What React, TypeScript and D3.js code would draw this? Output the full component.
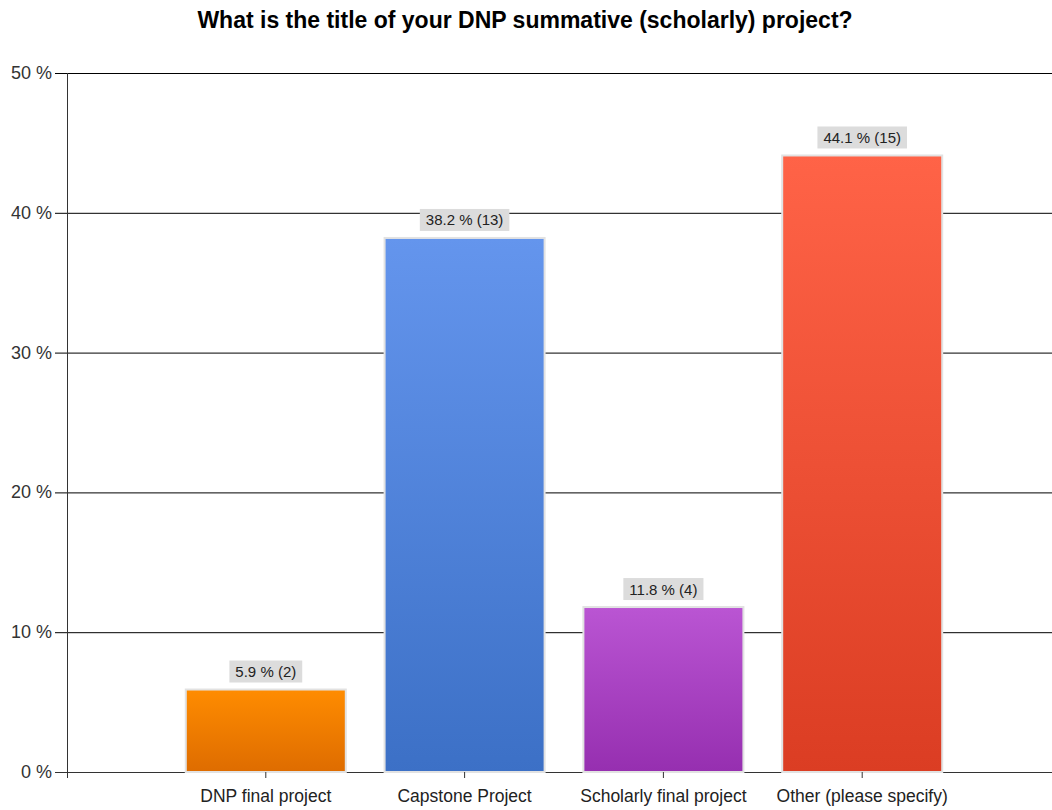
import React from "react";
import * as d3 from "d3";

const title = "What is the title of your DNP summative (scholarly) project?";
const categories = ["DNP final project", "Capstone Project", "Scholarly final project", "Other (please specify)"];
const percents = [5.9, 38.2, 11.8, 44.1];
const counts = [2, 13, 4, 15];
const yTicks = [0, 10, 20, 30, 40, 50];
const colorsTop = ["#ff8c00", "#6495ed", "#ba55d3", "#ff6347"];
const colorsBottom = ["#de6c00", "#3c70c6", "#962fb0", "#db3d23"];

const FONT = "Arial, 'Liberation Sans', sans-serif";

function measure(text: string, size: number) {
  if (typeof document === "undefined") return text.length * size * 0.5;
  const c = document.createElement("canvas").getContext("2d");
  if (!c) return text.length * size * 0.5;
  c.font = `${size}px Arial, 'Liberation Sans', sans-serif`;
  return c.measureText(text).width;
}

export default function App() {
  const W = 1052, H = 810;
  const y = d3.scaleLinear().domain([0, 50]).range([772, 73]);
  const x = d3.scaleLinear().domain([0, 5]).range([67, 1061]);
  const barW = 160;
  const labelSize = 15;
  return (
    <svg width={W} height={H} style={{ position: "absolute", left: 0, top: 0, background: "#fff" }}
      fontFamily={FONT}>
      <defs>
        {categories.map((c, i) => (
          <linearGradient key={i} id={`g${i}`} x1="0" y1="0" x2="0" y2="1">
            <stop offset="0%" stopColor={colorsTop[i]} />
            <stop offset="100%" stopColor={colorsBottom[i]} />
          </linearGradient>
        ))}
      </defs>
      <text x={525} y={28} textAnchor="middle" fontSize={23} fontWeight="bold" fill="#000">{title}</text>
      {yTicks.map((t) => (
        <g key={t}>
          <line x1={55} x2={1052} y1={y(t) + 0.5} y2={y(t) + 0.5} stroke={t === 0 ? "#333" : "#000"} strokeWidth={1} />
          <text x={52} y={y(t) + 6} textAnchor="end" fontSize={18} fill="#333">{t} %</text>
        </g>
      ))}
      <line x1={67.5} x2={67.5} y1={73} y2={778} stroke="#333" strokeWidth={1} />
      {categories.map((c, i) => {
        const cx = x(i + 1);
        const top = y(percents[i]);
        const label = `${percents[i]} % (${counts[i]})`;
        const lw = measure(label, labelSize) + 12;
        return (
          <g key={c}>
            <rect x={cx - barW / 2} y={top} width={barW} height={772 - top}
              fill={`url(#g${i})`} stroke="#e2e2e2" strokeWidth={2} />
            <rect x={cx - lw / 2} y={top - 29} width={lw} height={22} fill="#dcdcdc" />
            <text x={cx} y={top - 12.5} textAnchor="middle" fontSize={labelSize} fill="#222">{label}</text>
            <line x1={cx} x2={cx} y1={772} y2={778} stroke="#333" />
            <text x={cx} y={802} textAnchor="middle" fontSize={17.5} fill="#222">{c}</text>
          </g>
        );
      })}
    </svg>
  );
}
